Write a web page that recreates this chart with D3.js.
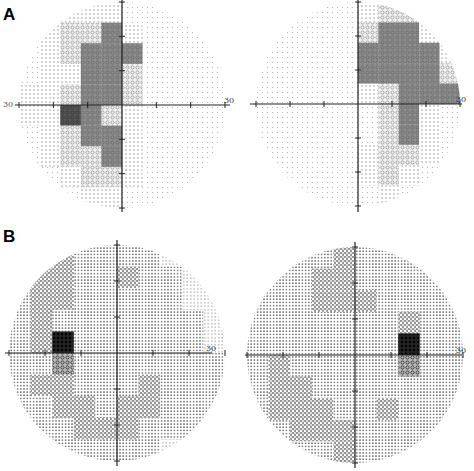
<!DOCTYPE html>
<html><head><meta charset="utf-8">
<script src="https://cdn.jsdelivr.net/npm/d3@7"></script>
<style>body{margin:0;background:#fff}</style>
</head><body>
<script>
// grey levels per 6-degree cell, rows top (+30) to bottom (-30), cols left (-30) to right (+30)
const fieldA1 = ["0011100000","0122310000","0123330000","0113320000","1123320000",
                 "1143210000","0123310000","0122310000","0012210000","0001100000"];
const fieldA2 = ["0000012200","0000023310","0000033331","0000033332","0000012333",
                 "0000002310","0000002310","0000012210","0000012100","0000001000"];
const fieldB1 = ["1121111000","1221121100","1221111100","1211111110","1241111110",
                 "1131111111","1221112111","1122122111","0112221110","0011111000"];
const fieldB2 = ["0011211100","0112211111","1112221111","1111111211","1111111411",
                 "1211111311","1221111111","1222112111","0122211110","0011211100"];
const axisLabels = ["30", "30"];
const panelLetters = ["A", "B"];

const svg = d3.select("body").append("svg").attr("width", 474).attr("height", 471);
const defs = svg.append("defs");

function pat(id, size, bg, draw) {
  const p = defs.append("pattern").attr("id", id).attr("patternUnits", "userSpaceOnUse")
    .attr("width", size).attr("height", size);
  p.append("rect").attr("width", size).attr("height", size).attr("fill", bg);
  draw(p);
}
const dot = (c, r, x, y) => p => p.append("circle").attr("cx", x).attr("cy", y).attr("r", r).attr("fill", c);
const ring = (c, w) => p => p.append("circle").attr("cx", 2.5).attr("cy", 2.5).attr("r", 1.6)
  .attr("fill", "none").attr("stroke", c).attr("stroke-width", w || 0.8);

// style A (grey printout)
pat("a0", 5, "#fff", dot("#aaa", 0.6, 2.5, 2.5));
pat("a1", 4, "#fff", dot("#888", 0.7, 2, 2));
pat("a2", 5, "#f2f2f2", ring("#888", 0.7));
pat("a3", 5, "#8c8c8c", ring("#666"));
pat("a4", 5, "#555", ring("#333"));
// style B (black dot printout)
pat("b0", 3.5, "#fff", dot("#666", 0.55, 1.75, 1.75));
pat("b1", 3.2, "#fff", dot("#222", 0.7, 1.6, 1.6));
pat("b2", 4, "#fff", p => { dot("#111", 0.8, 1, 1)(p); dot("#111", 0.8, 3, 3)(p); dot("#444", 0.5, 3, 1)(p); });
pat("b3", 5, "#bbb", ring("#111", 0.7));
pat("b4", 4, "#222", dot("#000", 1.2, 2, 2));

const panels = [
  {data: fieldA1, cx: 122, cy: 105, r: 103, s: "a", ax: [15, 230], ay: [0, 212]},
  {data: fieldA2, cx: 358, cy: 104, r: 102, s: "a", ax: [250, 462], ay: [0, 212]},
  {data: fieldB1, cx: 117, cy: 353, r: 108, s: "b", ax: [5, 212], ay: [240, 466]},
  {data: fieldB2, cx: 355, cy: 355, r: 108, s: "b", ax: [245, 462], ay: [242, 468]}
];

panels.forEach((pn, i) => {
  const x = d3.scaleLinear().domain([-30, 30]).range([pn.cx - pn.r, pn.cx + pn.r]);
  const y = d3.scaleLinear().domain([30, -30]).range([pn.cy - pn.r, pn.cy + pn.r]);
  const clip = defs.append("clipPath").attr("id", "clip" + i);
  clip.append("circle").attr("cx", pn.cx).attr("cy", pn.cy).attr("r", pn.r);
  const cells = [];
  pn.data.forEach((row, ri) => row.split("").forEach((v, ci) =>
    cells.push({deg: -30 + ci * 6, degY: 30 - ri * 6, v: v})));
  const g = svg.append("g").attr("clip-path", `url(#clip${i})`);
  g.selectAll("rect").data(cells).join("rect")
    .attr("x", d => x(d.deg)).attr("y", d => y(d.degY))
    .attr("width", x(6) - x(0) + 0.3).attr("height", y(0) - y(6) + 0.3)
    .attr("fill", d => `url(#${pn.s}${d.v})`);

  // axes
  svg.append("line").attr("x1", pn.ax[0]).attr("x2", pn.ax[1]).attr("y1", pn.cy).attr("y2", pn.cy)
    .attr("stroke", "#222").attr("stroke-width", 1.2);
  svg.append("line").attr("x1", pn.cx).attr("x2", pn.cx).attr("y1", pn.ay[0]).attr("y2", pn.ay[1])
    .attr("stroke", "#222").attr("stroke-width", 1.2);
  const ticks = d3.range(-30, 31, 10).filter(t => t !== 0);
  svg.selectAll(null).data(ticks).join("line")
    .attr("x1", t => x(t)).attr("x2", t => x(t)).attr("y1", pn.cy - 3).attr("y2", pn.cy + 3)
    .attr("stroke", "#222");
  svg.selectAll(null).data(ticks).join("line")
    .attr("y1", t => y(t)).attr("y2", t => y(t)).attr("x1", pn.cx - 3).attr("x2", pn.cx + 3)
    .attr("stroke", "#222");
  if (i === 0)
    svg.append("text").attr("x", 3).attr("y", pn.cy + 2).text(axisLabels[0])
      .attr("font-family", "DejaVu Serif").attr("font-size", 8).attr("fill", "#555");
  svg.append("text").attr("x", pn.ax[1] - 6).attr("y", pn.cy - 2).text(axisLabels[1])
    .attr("font-family", "DejaVu Serif").attr("font-size", 8).attr("fill", "#333");
});

svg.selectAll(".letter").data(panelLetters).join("text")
  .attr("x", 3).attr("y", (d, i) => i === 0 ? 20 : 242).text(d => d)
  .attr("font-family", "Liberation Sans").attr("font-weight", "bold").attr("font-size", 17);
</script>
</body></html>
